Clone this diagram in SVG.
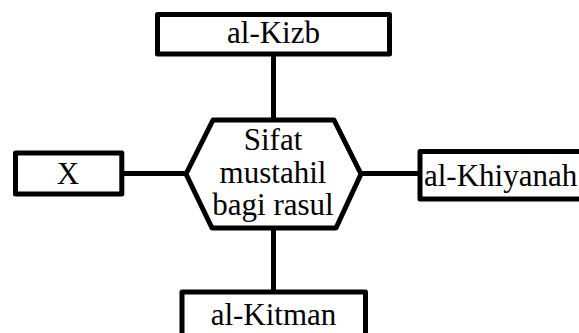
<svg xmlns="http://www.w3.org/2000/svg" width="579" height="333" viewBox="0 0 579 333">
<style>
.box{fill:#fff;stroke:#000;stroke-width:5;stroke-linejoin:round}
.line{stroke:#000;stroke-width:5;fill:none}
text{font-family:"Liberation Serif","Times New Roman",serif;font-size:31px;fill:#000}
.c{text-anchor:middle}
</style>
<rect width="579" height="333" fill="#fff"/>
<g id="connectors">
<line class="line" x1="273.5" y1="54" x2="273.5" y2="120"/>
<line class="line" x1="273.5" y1="228" x2="273.5" y2="292"/>
<line class="line" x1="121.8" y1="173.5" x2="186" y2="173.5"/>
<line class="line" x1="361" y1="173.5" x2="420" y2="173.5"/>
</g>
<g id="center">
<polygon class="box" points="213,120 334,120 361,174 336,228 212,228 186,174"/>
<text class="c" x="273" y="150">Sifat</text>
<text class="c" x="273" y="183">mustahil</text>
<text class="c" x="273" y="215">bagi rasul</text>
</g>
<g id="kizb">
<rect class="box" x="157.5" y="14.5" width="232" height="39.5"/>
<text class="c" x="273.5" y="43">al-Kizb</text>
</g>
<g id="x">
<rect class="box" x="15.5" y="153" width="106.3" height="41"/>
<text class="c" x="68" y="184">X</text>
</g>
<g id="khiyanah">
<rect class="box" x="420" y="151.5" width="180" height="47.5"/>
<text x="424" y="186">al-Khiyanah</text>
</g>
<g id="kitman">
<rect class="box" x="182" y="292" width="183.5" height="60"/>
<text class="c" x="273.5" y="325">al-Kitman</text>
</g>
</svg>
